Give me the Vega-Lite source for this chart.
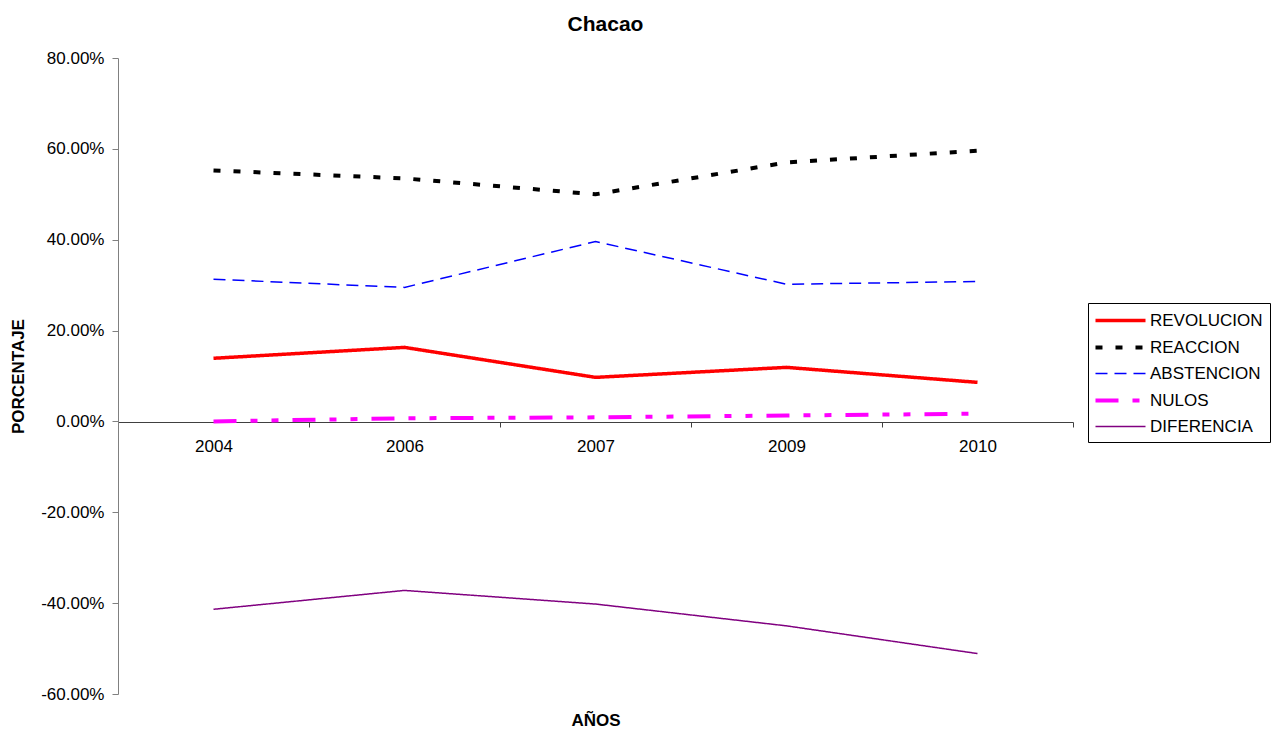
{
  "$schema": "https://vega.github.io/schema/vega-lite/v6.json",
  "width": 955,
  "height": 636,
  "autosize": {"type": "none"},
  "padding": {"left": 118, "top": 58, "right": 198, "bottom": 38},
  "background": "white",
  "config": {"view": {"stroke": null}, "font": "Liberation Sans", "axis": {"grid": false}},
  "title": {"text": "Chacao", "fontSize": 21, "fontWeight": "bold", "font": "Liberation Sans", "color": "black", "anchor": "middle", "offset": 14, "dx": 10},
  "data": {"values": [
    {"anio": "2004", "serie": "REVOLUCION", "valor": 0.139},
    {"anio": "2006", "serie": "REVOLUCION", "valor": 0.163},
    {"anio": "2007", "serie": "REVOLUCION", "valor": 0.097},
    {"anio": "2009", "serie": "REVOLUCION", "valor": 0.119},
    {"anio": "2010", "serie": "REVOLUCION", "valor": 0.086},
    {"anio": "2004", "serie": "REACCION", "valor": 0.5525},
    {"anio": "2006", "serie": "REACCION", "valor": 0.535},
    {"anio": "2007", "serie": "REACCION", "valor": 0.500},
    {"anio": "2009", "serie": "REACCION", "valor": 0.570},
    {"anio": "2010", "serie": "REACCION", "valor": 0.596},
    {"anio": "2004", "serie": "ABSTENCION", "valor": 0.313},
    {"anio": "2006", "serie": "ABSTENCION", "valor": 0.295},
    {"anio": "2007", "serie": "ABSTENCION", "valor": 0.396},
    {"anio": "2009", "serie": "ABSTENCION", "valor": 0.302},
    {"anio": "2010", "serie": "ABSTENCION", "valor": 0.308},
    {"anio": "2004", "serie": "NULOS", "valor": 0.000},
    {"anio": "2006", "serie": "NULOS", "valor": 0.007},
    {"anio": "2007", "serie": "NULOS", "valor": 0.009},
    {"anio": "2009", "serie": "NULOS", "valor": 0.013},
    {"anio": "2010", "serie": "NULOS", "valor": 0.017},
    {"anio": "2004", "serie": "DIFERENCIA", "valor": -0.4135},
    {"anio": "2006", "serie": "DIFERENCIA", "valor": -0.372},
    {"anio": "2007", "serie": "DIFERENCIA", "valor": -0.402},
    {"anio": "2009", "serie": "DIFERENCIA", "valor": -0.450},
    {"anio": "2010", "serie": "DIFERENCIA", "valor": -0.511}
  ]},
  "mark": {"type": "line", "strokeCap": "butt"},
  "encoding": {
    "x": {
      "field": "anio", "type": "ordinal",
      "scale": {"type": "band", "paddingInner": 0, "paddingOuter": 0},
      "axis": {
        "title": "AÑOS", "titleFontSize": 17, "titleFontWeight": "bold", "titleColor": "black", "titleFont": "Liberation Sans",
        "titleY": 290, "titleBaseline": "top",
        "labelAngle": 0, "labelFontSize": 17, "labelColor": "black", "labelFont": "Liberation Sans", "labelPadding": 11,
        "tickBand": "extent", "tickSize": 5, "tickColor": "#404040", "domainColor": "#404040",
        "offset": -272
      }
    },
    "y": {
      "field": "valor", "type": "quantitative",
      "scale": {"domain": [-0.6, 0.8], "nice": false, "zero": false},
      "axis": {
        "values": [-0.6, -0.4, -0.2, 0, 0.2, 0.4, 0.6, 0.8], "format": ".2%",
        "labelExpr": "replace(datum.label, '\u2212', '-')",
        "title": "PORCENTAJE", "titleFontSize": 17, "titleFontWeight": "bold", "titleColor": "black", "titleFont": "Liberation Sans",
        "titleX": -91, "titleY": 318,
        "labelFontSize": 17, "labelColor": "black", "labelFont": "Liberation Sans", "labelPadding": 8,
        "tickSize": 6, "tickColor": "#808080", "domainColor": "#808080"
      }
    },
    "color": {
      "field": "serie", "type": "nominal",
      "scale": {"domain": ["REVOLUCION", "REACCION", "ABSTENCION", "NULOS", "DIFERENCIA"], "range": ["#FF0000", "#000000", "#0000FF", "#FF00FF", "#800080"]},
      "legend": {"title": null, "orient": "none", "legendX": 970, "legendY": 245, "strokeColor": "black", "fillColor": "white", "padding": 7, "labelFontSize": 17, "labelColor": "black", "labelFont": "Liberation Sans", "symbolType": "M-3,0H3", "symbolSize": 278, "symbolOffset": 15, "rowPadding": 8, "labelOffset": 19}
    },
    "strokeDash": {
      "field": "serie", "type": "nominal",
      "scale": {"domain": ["REVOLUCION", "REACCION", "ABSTENCION", "NULOS", "DIFERENCIA"], "range": [[1, 0], [7, 13], [12, 7], [23, 14, 7, 14, 7, 14], [1, 0]]},
      "legend": {"title": null}
    },
    "strokeWidth": {
      "field": "serie", "type": "nominal",
      "scale": {"type": "ordinal", "domain": ["REVOLUCION", "REACCION", "ABSTENCION", "NULOS", "DIFERENCIA"], "range": [3.5, 4, 1.5, 4, 1.5]},
      "legend": {"title": null}
    }
  }
}
